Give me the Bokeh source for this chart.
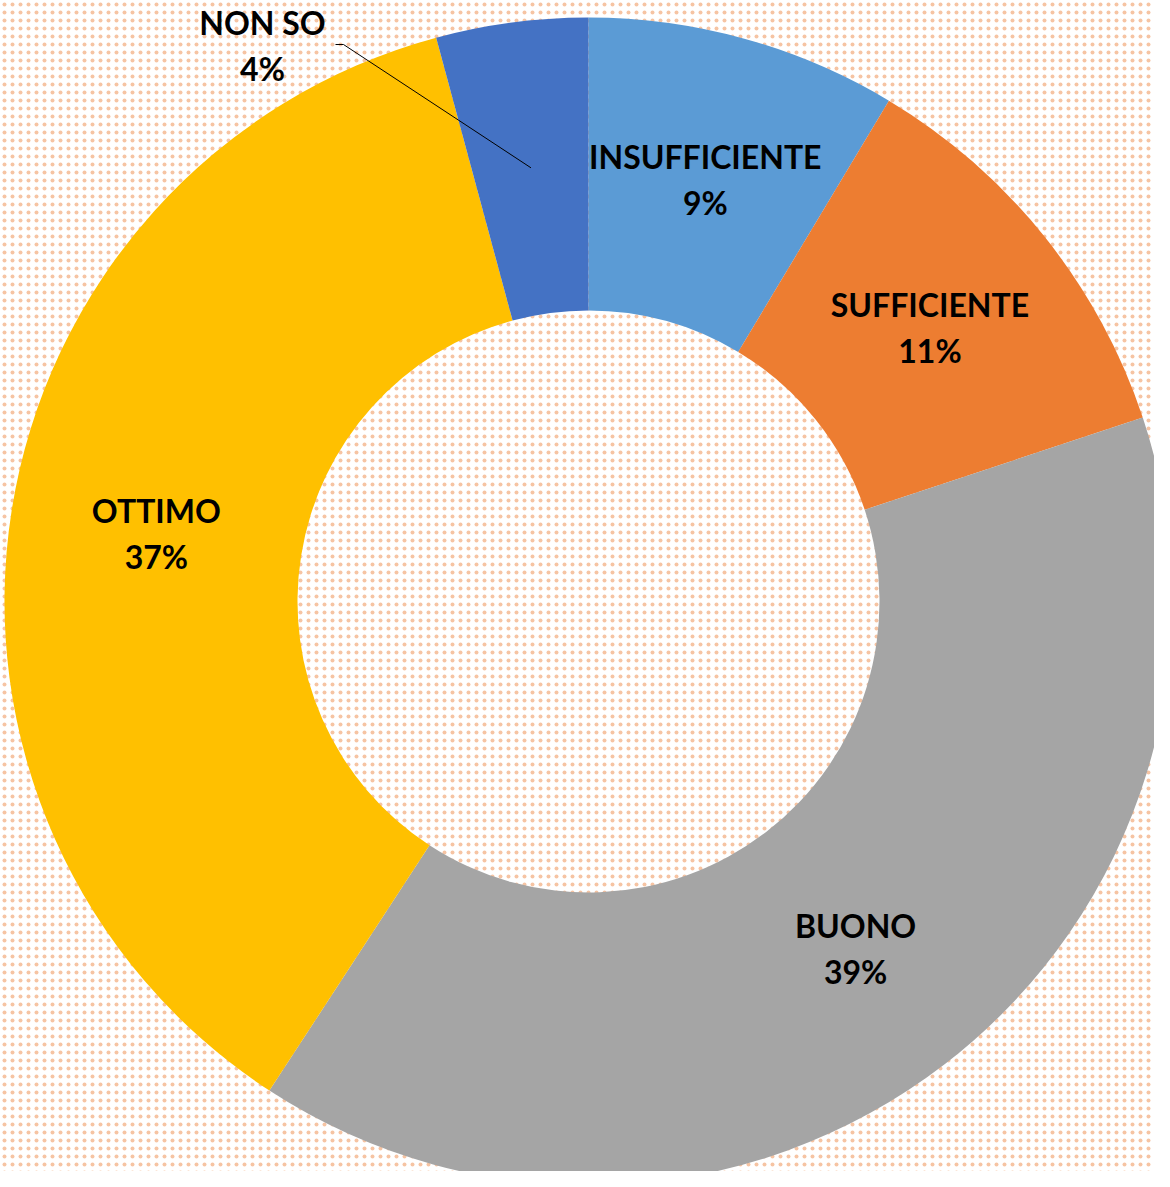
import math
from bokeh.plotting import figure
from bokeh.models import Range1d, ColumnDataSource
from bokeh.core.properties import value
from bokeh.embed import file_html
from bokeh.resources import INLINE

# ---- data ----
categories = ["INSUFFICIENTE", "SUFFICIENTE", "BUONO", "OTTIMO", "NON SO"]
values = [8.6, 11.3, 39.3, 36.6, 4.2]
colors = ["#5B9BD5", "#ED7D31", "#A5A5A5", "#FFC000", "#4472C4"]

W, H = 1154, 1171
p = figure(width=W, height=H, output_backend="svg", toolbar_location=None,
           x_range=Range1d(0, W), y_range=Range1d(-H, 0),
           min_border=0, border_fill_color="white", background_fill_color="white")
p.axis.visible = False
p.grid.visible = False
p.outline_line_color = None

# patterned background
p.quad(left=[-10], right=[W + 10], bottom=[-H - 10], top=[10], fill_color="white",
       line_color=None, hatch_pattern="dot", hatch_color="#F6C4A3",
       hatch_scale=8, hatch_weight=7, hatch_alpha=1.0)

cx, cy = 588, -601
r_out, r_in = 584, 291

total = sum(values)
starts, ends, mids = [], [], []
acc = 0.0
for v in values:
    f0 = acc / total
    acc += v
    f1 = acc / total
    starts.append(math.pi / 2 - f0 * 2 * math.pi)
    ends.append(math.pi / 2 - f1 * 2 * math.pi)
    mids.append(math.pi / 2 - (f0 + f1) / 2 * 2 * math.pi)

src = ColumnDataSource(dict(x=[cx] * len(values), y=[cy] * len(values),
                            start=starts, end=ends, color=colors))
p.annular_wedge(x="x", y="y", inner_radius=r_in, outer_radius=r_out,
                start_angle="start", end_angle="end", direction="clock",
                fill_color="color", line_color=None, source=src)

r_mid = (r_out + r_in) / 2
lx, ly, names, pcts = [], [], [], []
anchor = None
for c, v, m in zip(categories, values, mids):
    px = cx + r_mid * math.cos(m)
    py = cy + r_mid * math.sin(m)
    if c == "NON SO":
        anchor = (px, py)
        px, py = 262, -45
    lx.append(px)
    ly.append(py)
    names.append(c)
    pcts.append(f"{v / total * 100:.0f}%")

# leader line for NON SO
ax, ay = anchor
p.line(x=[lx[-1] + 73, lx[-1] + 81, ax], y=[ly[-1] + 1, ly[-1] + 1, ay],
       line_color="black", line_width=1)

lsrc = ColumnDataSource(dict(x=lx, y=ly, n=names, p=pcts))
common = dict(text_font=value("Lato"), text_font_style="bold",
              text_font_size="32px", text_align="center",
              text_baseline="middle", text_color="black", source=lsrc)
p.text(x="x", y="y", text="n", y_offset=-23, **common)
p.text(x="x", y="y", text="p", y_offset=23, **common)

open("out.html", "w").write(file_html(p, INLINE))
